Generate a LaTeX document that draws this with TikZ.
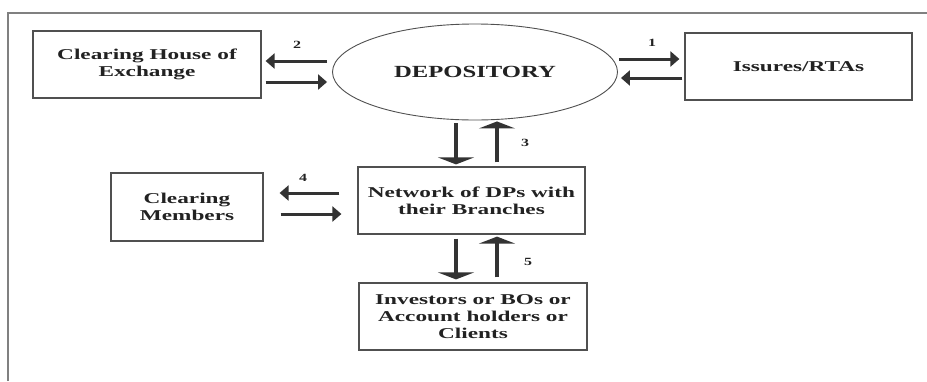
\documentclass[tikz,border=0pt]{standalone}
\usepackage{fontspec}
\setmainfont[FakeStretch=1.45]{Liberation Serif}
\newfontfamily\boxfont[FakeStretch=1.55]{Liberation Serif}
\usetikzlibrary{arrows.meta,shapes.geometric}
\definecolor{inkc}{HTML}{222222}
\definecolor{edgec}{HTML}{505050}
\definecolor{framec}{HTML}{808080}
\definecolor{arrc}{HTML}{333333}
\tikzset{
  boxnode/.style={draw=edgec,line width=1.2pt,rectangle,inner sep=0pt,align=center,
    text=inkc,font=\boxfont\bfseries\fontsize{15}{17}\selectfont},
  hflow/.style={draw=arrc,line width=3pt,-{Triangle[width=15pt,length=9pt]}},
  vflow/.style={draw=arrc,line width=3.5pt,-{Triangle[width=36pt,length=7pt]}},
  steplabel/.style={text=inkc,font=\bfseries\fontsize{11}{11}\selectfont,inner sep=0pt}
}
\begin{document}
\begin{tikzpicture}[x=1pt,y=-1pt]
\useasboundingbox (0,0) rectangle (927,381);
\fill[white] (0,0) rectangle (927,381);

% outer frame (top and left edges)
\draw[framec,line width=1.3pt] (8,381) -- (8,13) -- (927,13);

% participants
\node[boxnode,minimum width=228pt,minimum height=67pt] (chx) at (147,64.5)
  {Clearing House of\\Exchange};
\node[draw=edgec,line width=0.9pt,ellipse,inner sep=0pt,minimum width=285pt,minimum height=96pt,
  text=inkc,font=\bfseries\fontsize{17}{20}\selectfont] (dep) at (475,72) {DEPOSITORY};
\node[boxnode,minimum width=227pt,minimum height=67pt] (iss) at (798.5,66.5) {Issures/RTAs};
\node[boxnode,minimum width=227pt,minimum height=67pt] (net) at (471.5,200.5)
  {Network of DPs with\\their Branches};
\node[boxnode,minimum width=152pt,minimum height=68pt] (cm) at (187,207)
  {Clearing\\Members};
\node[boxnode,minimum width=228pt,minimum height=67pt] (inv) at (473,316.5)
  {Investors or BOs or\\Account holders or\\Clients};

% 2: depository <-> clearing house
\draw[hflow] ([xshift=-5pt]dep.west |- 0,61) -- ([xshift=4pt]chx.east |- 0,61);
\draw[hflow] ([xshift=4pt]chx.east |- 0,82) -- ([xshift=-5pt]dep.west |- 0,82);
\node[steplabel] (l2) at (297,45) {2};

% 1: depository <-> issuers
\draw[hflow] ([xshift=1pt]dep.east |- 0,59) -- ([xshift=-5pt]iss.west |- 0,59);
\draw[hflow] ([xshift=-2pt]iss.west |- 0,78) -- ([xshift=3pt]dep.east |- 0,78);
\node[steplabel] (l1) at (652,43) {1};

% 3: depository <-> DP network
\draw[vflow] ([yshift=-3pt]dep.south -| 456,0) -- ([yshift=2pt]net.north -| 456,0);
\draw[vflow] ([yshift=4pt]net.north -| 497,0) -- ([yshift=-1pt]dep.south -| 497,0);
\node[steplabel] (l3) at (525,143) {3};

% 4: DP network <-> clearing members
\draw[hflow] ([xshift=-18pt]net.west |- 0,193) -- ([xshift=16pt]cm.east |- 0,193);
\draw[hflow] ([xshift=17pt]cm.east |- 0,214) -- ([xshift=-16pt]net.west |- 0,214);
\node[steplabel] (l4) at (303,178) {4};

% 5: DP network <-> investors
\draw[vflow] ([yshift=-4pt]net.south -| 456,0) -- ([yshift=3pt]inv.north -| 456,0);
\draw[vflow] ([yshift=5pt]inv.north -| 497,0) -- ([yshift=-2pt]net.south -| 497,0);
\node[steplabel] (l5) at (528,262) {5};
\end{tikzpicture}
\end{document}
